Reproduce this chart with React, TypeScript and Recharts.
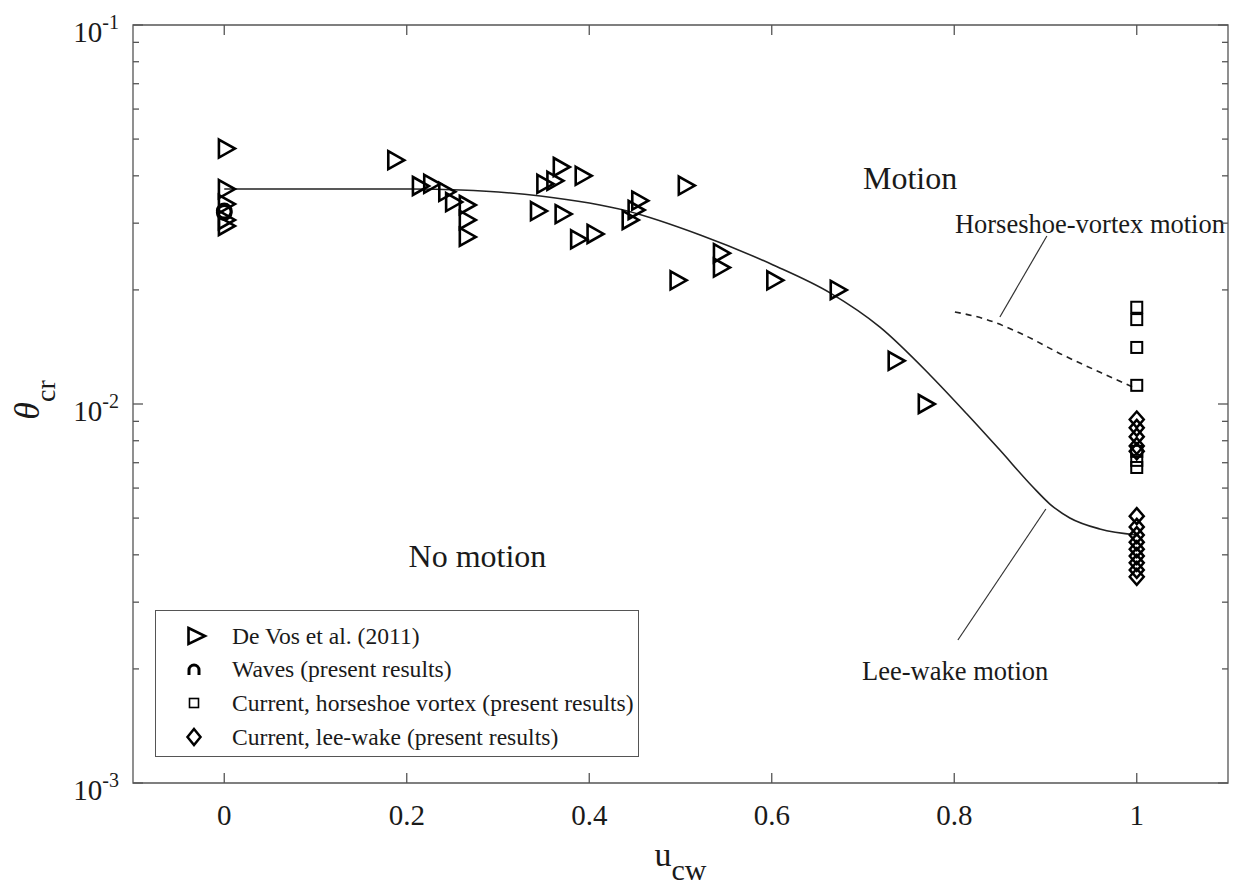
import React from 'react';
import {
  ComposedChart,
  XAxis,
  YAxis,
  Scatter,
  Line,
  ReferenceLine,
  ReferenceArea,
  ReferenceDot,
  Legend,
} from 'recharts';

// ---------------- data ----------------
const X_TICKS = [0, 0.2, 0.4, 0.6, 0.8, 1];
const Y_TICKS = [
  0.001, 0.002, 0.003, 0.004, 0.005, 0.006, 0.007, 0.008, 0.009,
  0.01, 0.02, 0.03, 0.04, 0.05, 0.06, 0.07, 0.08, 0.09, 0.1,
];

const deVosX = [
  0, 0, 0, 0, 0, 0.1856, 0.2126, 0.225, 0.2415, 0.249, 0.264, 0.264, 0.264,
  0.342, 0.349, 0.36, 0.367, 0.369, 0.386, 0.391, 0.404, 0.4425, 0.449, 0.453,
  0.495, 0.504, 0.5425, 0.5425, 0.601, 0.6705, 0.734, 0.767,
];
const deVosY = [
  0.0472, 0.0369, 0.0337, 0.0306, 0.0295, 0.044, 0.0376, 0.0381, 0.0363, 0.0341,
  0.0335, 0.0306, 0.0276, 0.0323, 0.0381, 0.0388, 0.0422, 0.0317, 0.0272, 0.04,
  0.0281, 0.0306, 0.0325, 0.0344, 0.0212, 0.0377, 0.025, 0.0229, 0.0212, 0.02,
  0.013, 0.01,
];

const wavesX = [0, 0];
const wavesY = [0.032, 0.0323];

const horseshoeX = [1, 1, 1, 1, 1, 1, 1];
const horseshoeY = [0.018, 0.0167, 0.0141, 0.0112, 0.0075, 0.0071, 0.0068];

const leeWakeX = [1, 1, 1, 1, 1, 1, 1, 1, 1, 1, 1, 1, 1, 1];
const leeWakeY = [
  0.0091, 0.00865, 0.0082, 0.00775, 0.0075, 0.00506, 0.00474, 0.00451, 0.00432,
  0.00414, 0.00397, 0.00381, 0.00365, 0.0035,
];

const curveX = [
  0, 0.1, 0.2042, 0.2589, 0.3464, 0.4417, 0.5216, 0.6015, 0.6639, 0.7186,
  0.7734, 0.8139, 0.85, 0.8862, 0.9048, 0.9267, 0.9595, 1.0,
];
const curveY = [
  0.03692, 0.03692, 0.03692, 0.0367, 0.03538, 0.0323, 0.02792, 0.02327, 0.01964,
  0.01595, 0.01193, 0.00941, 0.007558, 0.006039, 0.005446, 0.005004, 0.00468,
  0.004513,
];

const dashX = [0.8007, 0.8336, 0.8719, 0.919, 0.9737, 0.9978];
const dashY = [0.01749, 0.01676, 0.01539, 0.01347, 0.01171, 0.01102];

const LEADER_HV = [
  { x: 0.9015, y: 0.02775 },
  { x: 0.85, y: 0.01697 },
];
const LEADER_LW = [
  { x: 0.9004, y: 0.005284 },
  { x: 0.804, y: 0.002384 },
];

const ANNOT_TEXT = ['Motion', 'Horseshoe-vortex motion', 'No motion', 'Lee-wake motion'];
const ANNOT_X = [0.7, 0.8007, 0.202, 0.699];
const ANNOT_Y = [0.0369, 0.02827, 0.003715, 0.00187];
const ANNOT_SIZE = [32, 26.5, 32, 26.5];

const LEGEND_LABELS = [
  'De Vos et al. (2011)',
  'Waves (present results)',
  'Current, horseshoe vortex (present results)',
  'Current, lee-wake (present results)',
];

const zip = (xs: number[], ys: number[]) => xs.map((x, i) => ({ x, y: ys[i] }));

// ---------------- layout / style ----------------
const FONT = '"Liberation Serif", "Times New Roman", Times, serif';
const W = 1230;
const H = 878;
const M = { top: 17, right: 10, left: 45, bottom: 43 };
const YAXIS_W = 80;
const XAXIS_H = 60;
const PW = W - M.left - M.right - YAXIS_W;
const PH = H - M.top - M.bottom - XAXIS_H;
const AXIS = '#555';
const TXT = '#1a1a1a';
const MK = '#000';

const XTick = (props: any) => {
  const { x, y, payload } = props;
  return (
    <g>
      <line x1={x} y1={y} x2={x} y2={y - 10} stroke={AXIS} strokeWidth={1.3} />
      <line x1={x} y1={y - PH} x2={x} y2={y - PH + 10} stroke={AXIS} strokeWidth={1.3} />
      <text x={x} y={y + 42} textAnchor="middle" fontFamily={FONT} fontSize={29} fill={TXT}>
        {String(payload.value)}
      </text>
    </g>
  );
};

const YTick = (props: any) => {
  const { x, y, payload } = props;
  const v = payload.value as number;
  const lg = Math.log10(v);
  const e = Math.round(lg);
  const major = Math.abs(lg - e) < 1e-6;
  const len = major ? 10 : 6;
  return (
    <g>
      <line x1={x} y1={y} x2={x + len} y2={y} stroke={AXIS} strokeWidth={1.3} />
      <line x1={x + PW} y1={y} x2={x + PW - len} y2={y} stroke={AXIS} strokeWidth={1.3} />
      {major && (
        <text x={x - 14} y={y + 17} textAnchor="end" fontFamily={FONT} fill={TXT}>
          <tspan fontSize={29}>10</tspan>
          <tspan fontSize={20} dy={-13}>{String(e)}</tspan>
        </text>
      )}
    </g>
  );
};

const XLabel = (props: any) => {
  const vb = props.viewBox || {};
  const cx = vb.x + vb.width / 2;
  const y = vb.y + 83;
  return (
    <text x={cx} y={y} textAnchor="middle" fontFamily={FONT} fill={TXT}>
      <tspan fontSize={34}>u</tspan>
      <tspan fontSize={30} dy={14}>cw</tspan>
    </text>
  );
};

const YLabel = (props: any) => {
  const vb = props.viewBox || {};
  const plotLeft = vb.x + vb.width;
  const cx = plotLeft - 94;
  const cy = vb.y + vb.height / 2 - 4;
  return (
    <text transform={`translate(${cx},${cy}) rotate(-90)`} textAnchor="middle" fontFamily={FONT} fill={TXT}>
      <tspan fontSize={36} fontStyle="italic">θ</tspan>
      <tspan fontSize={28} dy={16}>cr</tspan>
    </text>
  );
};

const Tri = (p: any) => {
  const { cx, cy } = p;
  const w = 16;
  const h = 18;
  return (
    <path
      d={`M${cx - w / 3},${cy - h / 2} L${cx + (2 * w) / 3},${cy} L${cx - w / 3},${cy + h / 2} Z`}
      fill="none"
      stroke={MK}
      strokeWidth={2.6}
    />
  );
};
const Circ = (p: any) => (
  <circle cx={p.cx} cy={p.cy} r={7} fill="none" stroke={MK} strokeWidth={2.8} />
);
const Sq = (p: any) => (
  <rect x={p.cx - 5.5} y={p.cy - 5.5} width={11} height={11} fill="none" stroke={MK} strokeWidth={2} />
);
const Dia = (p: any) => (
  <path
    d={`M${p.cx},${p.cy - 8} L${p.cx + 7},${p.cy} L${p.cx},${p.cy + 8} L${p.cx - 7},${p.cy} Z`}
    fill="none"
    stroke={MK}
    strokeWidth={2.5}
  />
);

const legendMarker = (i: number) => {
  if (i === 0) return <path d="M-5.5,-8 L11,0 L-5.5,8 Z" fill="none" stroke={MK} strokeWidth={2.6} />;
  if (i === 1) return <path d="M-5,6 L-5,1 A5,5 0 1 1 5,1 L5,6" fill="none" stroke={MK} strokeWidth={3} />;
  if (i === 2) return <rect x={-4.5} y={-4.5} width={9} height={9} fill="none" stroke={MK} strokeWidth={1.6} />;
  return <path d="M0,-8 L6.5,0 L0,8 L-6.5,0 Z" fill="none" stroke={MK} strokeWidth={2.5} />;
};

const ROW_Y = [25, 58, 92, 126];

const LegendBox = () => (
  <div
    style={{
      position: 'relative',
      width: 484,
      height: 147,
      border: `1.3px solid ${AXIS}`,
      boxSizing: 'border-box',
      background: '#fff',
      fontFamily: FONT,
      fontSize: 23.6,
      color: TXT,
    }}
  >
    {LEGEND_LABELS.map((lab, i) => (
      <div
        key={i}
        style={{
          position: 'absolute',
          left: 0,
          top: ROW_Y[i] - 17,
          height: 34,
          display: 'flex',
          alignItems: 'center',
        }}
      >
        <svg width={76} height={34} style={{ display: 'block' }}>
          <g transform="translate(38,17)">{legendMarker(i)}</g>
        </svg>
        <span style={{ whiteSpace: 'nowrap', lineHeight: '34px' }}>{lab}</span>
      </div>
    ))}
  </div>
);

const AnnotText = (i: number) => (p: any) => (
  <text x={p.cx} y={p.cy} fontFamily={FONT} fontSize={ANNOT_SIZE[i]} fill={TXT}>
    {ANNOT_TEXT[i]}
  </text>
);

export default function App() {
  return (
    <div style={{ width: W, height: H }}>
      <style>{`html,body{overflow:hidden;}`}</style>
      <ComposedChart width={W} height={H} margin={M}>
        <XAxis
          dataKey="x"
          type="number"
          domain={[-0.1, 1.1]}
          ticks={X_TICKS}
          interval={0}
          allowDataOverflow
          axisLine={false}
          tickLine={false}
          tickSize={0}
          tickMargin={0}
          height={XAXIS_H}
          tick={<XTick />}
          label={{ content: XLabel }}
        />
        <YAxis
          dataKey="y"
          type="number"
          scale="log"
          domain={[0.001, 0.1]}
          ticks={Y_TICKS}
          interval={0}
          allowDataOverflow
          axisLine={false}
          tickLine={false}
          tickSize={0}
          tickMargin={0}
          width={YAXIS_W}
          tick={<YTick />}
          label={{ content: YLabel }}
        />
        <ReferenceArea
          x1={-0.1}
          x2={1.1}
          y1={0.001}
          y2={0.1}
          fill="none"
          fillOpacity={0}
          stroke={AXIS}
          strokeWidth={1.3}
        />
        <Line
          data={zip(curveX, curveY)}
          dataKey="y"
          type="monotone"
          stroke="#222"
          strokeWidth={1.6}
          dot={false}
          activeDot={false}
          isAnimationActive={false}
        />
        <Line
          data={zip(dashX, dashY)}
          dataKey="y"
          type="monotone"
          stroke="#222"
          strokeWidth={1.6}
          strokeDasharray="6 5"
          dot={false}
          activeDot={false}
          isAnimationActive={false}
        />
        <ReferenceLine segment={LEADER_HV} stroke="#333" strokeWidth={1.2} />
        <ReferenceLine segment={LEADER_LW} stroke="#333" strokeWidth={1.2} />
        <Scatter name={LEGEND_LABELS[0]} data={zip(deVosX, deVosY)} dataKey="y" shape={Tri} isAnimationActive={false} />
        <Scatter name={LEGEND_LABELS[1]} data={zip(wavesX, wavesY)} dataKey="y" shape={Circ} isAnimationActive={false} />
        <Scatter name={LEGEND_LABELS[2]} data={zip(horseshoeX, horseshoeY)} dataKey="y" shape={Sq} isAnimationActive={false} />
        <Scatter name={LEGEND_LABELS[3]} data={zip(leeWakeX, leeWakeY)} dataKey="y" shape={Dia} isAnimationActive={false} />
        {ANNOT_TEXT.map((t, i) => (
          <ReferenceDot key={t} x={ANNOT_X[i]} y={ANNOT_Y[i]} r={0} ifOverflow="visible" shape={AnnotText(i)} />
        ))}
        <Legend
          layout="horizontal"
          verticalAlign="middle"
          align="center"
          content={<LegendBox />}
          wrapperStyle={{ left: 147, top: 602, width: 484, height: 147 }}
        />
      </ComposedChart>
    </div>
  );
}
